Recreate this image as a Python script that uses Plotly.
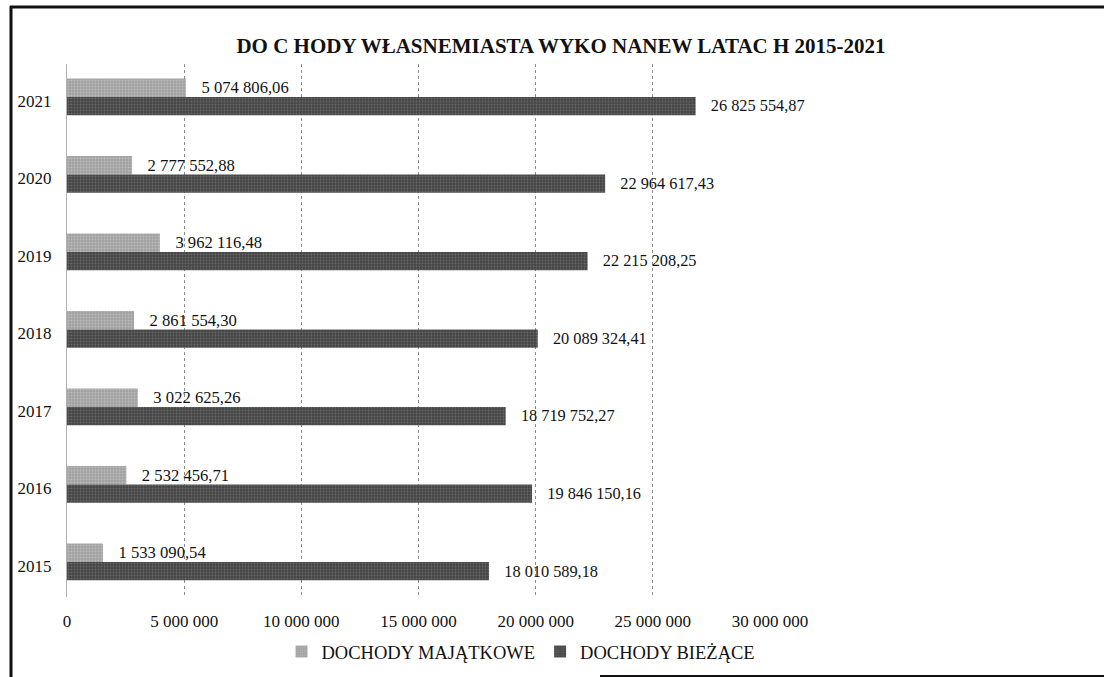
import plotly.graph_objects as go

years = ["2015", "2016", "2017", "2018", "2019", "2020", "2021"]
majatkowe = [1533090.54, 2532456.71, 3022625.26, 2861554.30, 3962116.48, 2777552.88, 5074806.06]
biezace = [18010589.18, 19846150.16, 18719752.27, 20089324.41, 22215208.25, 22964617.43, 26825554.87]
tick_vals = [0, 5000000, 10000000, 15000000, 20000000, 25000000, 30000000]
tick_text = ["0", "5 000 000", "10 000 000", "15 000 000", "20 000 000", "25 000 000", "30 000 000"]
title_text = "DO C HODY WŁASNEMIASTA WYKO NANEW LATAC H 2015-2021"


def fmt(v):
    return f"{v:,.2f}".replace(",", " ").replace(".", ",")


FONT = "Liberation Serif, Times New Roman, serif"
PAD = "\u00a0\u00a0\u00a0"

# plot area in pixels: x 67..770, y 64..597
L, R, T, B = 67, 770, 64, 597
W, H = 1104, 677
pw, ph = R - L, B - T


def px(x):
    return (x - L) / pw


def py(y):
    return (B - y) / ph


fig = go.Figure()
fig.add_trace(go.Bar(
    y=years, x=majatkowe, orientation="h", name="DOCHODY MAJĄTKOWE",
    offset=0.05, width=0.24,
    marker=dict(color="#a0a0a0", line=dict(width=0),
                pattern=dict(shape=".", fgcolor="#d8d8d8", size=3, solidity=0.35)),
    text=[PAD + fmt(v) for v in majatkowe], textposition="outside", cliponaxis=False,
    textfont=dict(family=FONT, size=17, color="#111111"),
))
fig.add_trace(go.Bar(
    y=years, x=biezace, orientation="h", name="DOCHODY BIEŻĄCE",
    offset=-0.185, width=0.235,
    marker=dict(color="#454545", line=dict(width=0),
                pattern=dict(shape=".", fgcolor="#8a8a8a", size=3, solidity=0.3)),
    text=[PAD + fmt(v) for v in biezace], textposition="outside", cliponaxis=False,
    textfont=dict(family=FONT, size=17, color="#111111"),
))

fig.update_layout(
    width=W, height=H,
    margin=dict(l=L, r=W - R, t=T, b=H - B, autoexpand=False),
    paper_bgcolor="white", plot_bgcolor="white",
    barmode="overlay",
    font=dict(family=FONT, size=17, color="#111111"),
    title=dict(text="<b>" + title_text + "</b>", x=561 / W, y=1 - 46 / H,
               xref="container", yref="container",
               xanchor="center", yanchor="middle",
               font=dict(family=FONT, size=21, color="#111111")),
    xaxis=dict(range=[0, 30000000], tickvals=tick_vals, ticktext=tick_text,
               showgrid=True, gridcolor="#8c8c8c", griddash="dot", gridwidth=1,
               zeroline=False, showline=False, ticks="", ticklabelstandoff=12,
               automargin=False,
               tickfont=dict(family=FONT, size=17, color="#111111")),
    yaxis=dict(type="category", range=[-0.4, 6.477], showgrid=False, zeroline=False,
               showline=True, linecolor="#b0b0b0", linewidth=1,
               ticks="", ticklabelstandoff=11, automargin=False,
               tickfont=dict(family=FONT, size=17, color="#111111")),
    legend=dict(orientation="h", xref="container", yref="container",
                x=521 / W, xanchor="center", y=1 - 652 / H, yanchor="middle",
                font=dict(family=FONT, size=18.5, color="#111111"),
                itemwidth=30, bgcolor="rgba(0,0,0,0)"),
    showlegend=True,
)

# page frame (scanned page border): top, left and partial bottom edges
frame = dict(color="#111111")
fig.add_shape(type="line", xref="paper", yref="paper",
              x0=px(10), x1=px(1104), y0=py(7), y1=py(7),
              line=dict(width=3, **frame), layer="below")
fig.add_shape(type="line", xref="paper", yref="paper",
              x0=px(11), x1=px(11), y0=py(6), y1=py(677),
              line=dict(width=3, **frame), layer="below")
fig.add_shape(type="line", xref="paper", yref="paper",
              x0=px(600), x1=px(1104), y0=py(676), y1=py(676),
              line=dict(width=2, **frame), layer="below")

fig.write_html("out.html",
               config={"displayModeBar": False},
               post_script="document.body.style.margin='0';document.body.style.overflow='hidden';")
